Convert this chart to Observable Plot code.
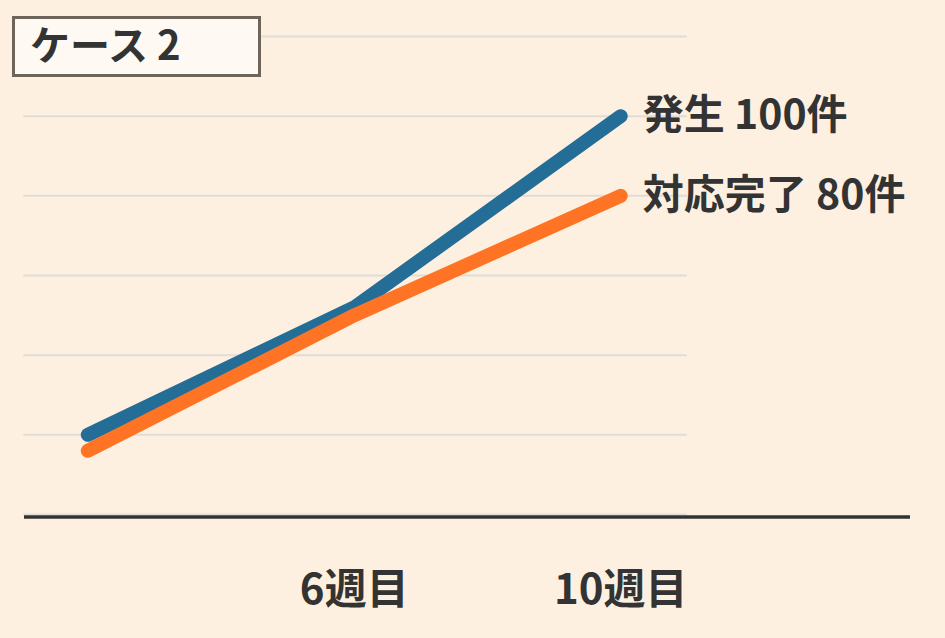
<!DOCTYPE html>
<html>
<head>
<meta charset="utf-8">
<script src="https://cdn.jsdelivr.net/npm/d3@7"></script>
<script src="https://cdn.jsdelivr.net/npm/@observablehq/plot@0.6"></script>
<style>
  html, body { margin: 0; padding: 0; background: #fdf0e0; }
  #wrap { position: relative; width: 945px; height: 638px; overflow: hidden; }
  #title {
    position: absolute; left: 12px; top: 16px; width: 243px; height: 55px;
    background: #fef9f2; border: 3px solid #6e645a; box-sizing: content-box;
    font-family: "Noto Sans CJK JP", sans-serif; font-weight: 700; font-size: 40px;
    color: #333; line-height: 55px;
  }
  #title span { position: absolute; left: 15px; top: -3px; }
</style>
</head>
<body>
<div id="wrap">
  <div id="chart"></div>
  <div id="title"><span>ケース 2</span></div>
</div>
<script>
const weeks = [2, 6, 10];
const occurred = [20, 52, 100];
const resolved = [16, 50, 80];
const seriesNames = ["発生", "対応完了"];
const tickWeeks = [6, 10];
const gridValues = [0, 20, 40, 60, 80, 100, 120];

const colors = {"発生": "#236d97", "対応完了": "#ff7324"};
const rows = [];
weeks.forEach((w, i) => {
  rows.push({week: w, value: occurred[i], series: seriesNames[0]});
});
weeks.forEach((w, i) => {
  rows.push({week: w, value: resolved[i], series: seriesNames[1]});
});
const endRows = [
  {week: weeks[2], value: occurred[2], label: `${seriesNames[0]} ${occurred[2]}件`},
  {week: weeks[2], value: resolved[2], label: `${seriesNames[1]} ${resolved[2]}件`}
];

const font = '"Noto Sans CJK JP", sans-serif';
const chart = Plot.plot({
  width: 945,
  height: 638,
  marginLeft: 24,
  marginRight: 35,
  marginTop: 36,
  marginBottom: 124,
  style: {background: "#fdf0e0", fontFamily: font, color: "#333"},
  x: {domain: [1.05, 14.35]},
  y: {domain: [0, 120]},
  marks: [
    Plot.ruleY(gridValues, {x1: 1.04, x2: 11, stroke: "#e0ddd8", strokeWidth: 2}),
    Plot.ruleY([0], {stroke: "#333", strokeWidth: 3.5, dy: 2.5}),
    Plot.line(rows, {
      x: "week", y: "value", z: "series",
      stroke: d => colors[d.series],
      strokeWidth: 14, strokeLinecap: "round", strokeLinejoin: "round"
    }),
    Plot.text(endRows, {
      x: "week", y: "value", text: "label", dx: 22, textAnchor: "start",
      fontSize: 41, fontWeight: 700, fill: "#333", fontFamily: font
    }),
    Plot.axisX(tickWeeks, {
      tickSize: 0, tickPadding: 60, tickFormat: d => `${d}週目`,
      fontSize: 42, fontWeight: 700, fill: "#333", fontFamily: font, label: null
    }),
    Plot.axisY({ticks: [], label: null, tickSize: 0})
  ]
});
document.getElementById("chart").appendChild(chart);
</script>
</body>
</html>
